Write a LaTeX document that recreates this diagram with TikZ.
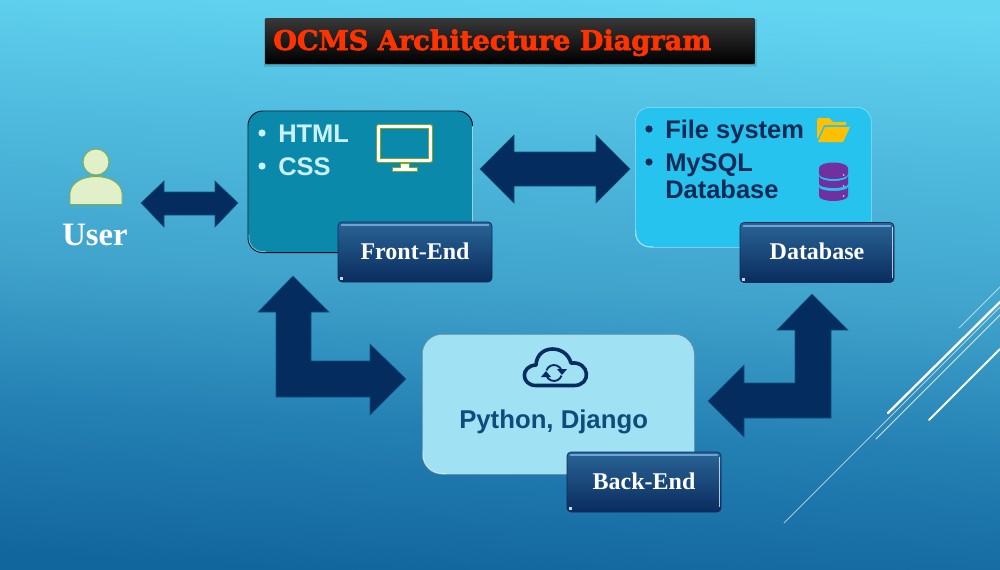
\documentclass[tikz,border=0pt]{standalone}
\usepackage{fontspec}
\setmainfont{Liberation Sans}
\newfontfamily\serifb{Liberation Serif}[BoldFont={Liberation Serif Bold}]
\newfontfamily\titlef{DejaVu Serif Bold}[FakeBold=2.4]
\usetikzlibrary{calc}
\definecolor{arrowblue}{HTML}{052C5F}
\definecolor{titlered}{HTML}{FF3300}
\definecolor{lightT}{HTML}{C8F1FA}
\definecolor{darkT}{HTML}{0D2A57}
\definecolor{pyT}{HTML}{0F4C7C}
\definecolor{tagtop}{HTML}{2A6496}
\definecolor{tagbot}{HTML}{0A2C5E}
\definecolor{tagline}{HTML}{6FA3D4}
\definecolor{frontc}{HTML}{0B89AA}
\definecolor{dbc}{HTML}{25C3EE}
\definecolor{backc}{HTML}{A0E2F4}
\definecolor{monl}{HTML}{7FA61E}
\definecolor{dbp}{HTML}{7030A0}
\definecolor{foldc}{HTML}{FFC000}
\definecolor{ufill}{HTML}{E2F0C9}
\definecolor{uline}{HTML}{86AE3C}
\pgfdeclareverticalshading{slidebg}{100bp}{
  rgb(0bp)=(0.07,0.40,0.62);
  rgb(25bp)=(0.07,0.40,0.62);
  rgb(37.5bp)=(0.14,0.50,0.70);
  rgb(50bp)=(0.25,0.64,0.80);
  rgb(62.5bp)=(0.31,0.73,0.87);
  rgb(75bp)=(0.39,0.84,0.95);
  rgb(100bp)=(0.39,0.84,0.95)
}
\tikzset{
  x=0.75pt,y=-0.75pt,
  blockarrow/.style={fill=arrowblue,draw=arrowblue!80!cyan,line width=0.4pt},
  card/.style={rounded corners=11pt,inner sep=0pt,anchor=north west},
  tag/.style={draw=tagbot,line width=0.5pt,rounded corners=3pt,top color=tagtop,bottom color=tagbot,
    minimum width=115.5pt,minimum height=45pt,inner sep=0pt,text=white,font=\serifb\bfseries\fontsize{18}{20}\selectfont},
  itemtxt/.style={anchor=base west,inner sep=0pt,font=\bfseries\fontsize{19.1}{20}\selectfont},
  wire/.style={white,line cap=round},
  glint/.style={white,opacity=.45,line width=0.7pt},
}
\begin{document}
\begin{tikzpicture}
\useasboundingbox (0,0) rectangle (1000,569);
\clip (0,0) rectangle (1000,569);
\path[shading=slidebg,shading angle=-3] (0,0) rectangle (1000,569);

% decorative lines
\coordinate (w1a) at (888,413); \coordinate (w1b) at (1000,302);
\coordinate (w2a) at (784,523); \coordinate (w2b) at (1000,307);
\coordinate (w3a) at (876,439); \coordinate (w3b) at (1000,315);
\coordinate (w4a) at (929,420); \coordinate (w4b) at (1000,349);
\coordinate (w5a) at (959,328); \coordinate (w5b) at (1000,287);
\draw[wire,line width=1.8pt] (w1a)--(w1b);
\draw[wire,line width=0.6pt,opacity=.6] (w2a)--(w2b);
\draw[wire,line width=0.7pt,opacity=.8] (w3a)--(w3b);
\draw[wire,line width=1.5pt] (w4a)--(w4b);
\draw[wire,line width=0.6pt,opacity=.6] (w5a)--(w5b);

% title
\fill[black,opacity=.12] (264,19) rectangle (757,67);
\fill[black,opacity=.2] (265,20) rectangle (755,65);
\node[anchor=north west,inner sep=0pt,minimum width=366.75pt,minimum height=33.75pt,top color=black!78,bottom color=black] (titlebox) at (265,18) {};
\node[anchor=base west,inner sep=0pt,text=titlered,font=\titlef\fontsize{20.4}{22}\selectfont] (title) at (273,50) {OCMS Architecture Diagram};

% cards
\node[card,fill=frontc,minimum width=168pt,minimum height=105.75pt] (front) at (248,111) {};
\draw[white,opacity=.5,line width=0.6pt] ($(front.north east)+(0,15)$) -- ($(front.south east)+(0,-30)$);
\draw[rounded corners=11pt,black!70!arrowblue,line width=0.7pt] ($(front.south east)+(-60,0)$) -- (front.south west) -- (front.north west) -- (front.north east) -- ($(front.north east)+(0,15)$);
\draw[glint,rounded corners=10pt] ($(front.south west)+(1,-18)$) -- ($(front.south west)+(1,-1)$) -- ($(front.south west)+(18,-1)$);
\node[card,fill=dbc,draw=white!60!cyan,line width=0.4pt,minimum width=177pt,minimum height=105pt] (db) at (635,107) {};
\draw[glint,rounded corners=10pt] ($(db.south west)+(1,-18)$) -- ($(db.south west)+(1,-1)$) -- ($(db.south west)+(18,-1)$);
\node[card,rounded corners=15pt,fill=backc,draw=black!40!cyan!40!gray,line width=0.4pt,minimum width=204pt,minimum height=105pt] (back) at (422,334) {};
\draw[glint,rounded corners=14pt] ($(back.south west)+(1,-24)$) -- ($(back.south west)+(1,-1)$) -- ($(back.south west)+(24,-1)$);

% card text
\fill[lightT] (262,133) circle (3.6);
\node[itemtxt,text=lightT] (html) at (278,142) {HTML};
\fill[lightT] (262,166) circle (3.6);
\node[itemtxt,text=lightT] (css) at (278,175) {CSS};
\fill[darkT] (649,129) circle (3.6);
\node[itemtxt,text=darkT] (file) at (665,138) {File system};
\fill[darkT] (649,162) circle (3.6);
\node[itemtxt,text=darkT] (mysql) at (665,171) {MySQL};
\node[itemtxt,text=darkT] (dbase) at (665,198) {Database};
\node[itemtxt,text=pyT,font=\bfseries\fontsize{19.3}{20}\selectfont] (py) at (459,428) {Python, Django};

% monitor
\draw[monl,line width=3.6pt,line join=round] (378.5,126.5) rectangle (430.5,160.5);
\draw[white,line width=2.9pt,line join=round] (378.5,126.5) rectangle (430.5,160.5);
\filldraw[draw=monl,line width=.3pt,fill=white] (400,163)--(409,163)--(409,167)--(417,167)--(417,171)--(392,171)--(392,167)--(400,167)--cycle;

% folder
\fill[foldc] (817,120) -- (818,118) -- (829,118) -- (833,122) -- (846,122) -- (846,125) -- (824,125) -- (818,138) -- (817,138) -- cycle;
\fill[foldc] (825,127) -- (850,127) -- (843,142) -- (818,142) -- cycle;

% database icon
\fill[dbp] (819,168) arc[start angle=180,end angle=360,x radius=14.5,y radius=5.5] -- (848,174) arc[start angle=0,end angle=180,x radius=14.5,y radius=5] -- cycle;
\fill[dbp] (819,176) arc[start angle=180,end angle=0,x radius=14.5,y radius=5] -- (848,184) arc[start angle=0,end angle=180,x radius=14.5,y radius=4] -- cycle;
\fill[dbp] (819,187) arc[start angle=180,end angle=0,x radius=14.5,y radius=4] -- (848,196) arc[start angle=0,end angle=180,x radius=14.5,y radius=5] -- cycle;
\fill[white!70!dbp] (843.5,175) circle (1) (843.5,186) circle (1) (843.5,196) circle (1);

% cloud
\draw[arrowblue,line width=2.7pt,line join=round]
  (536,385.5) .. controls (521,385.5) and (520,366) .. (536,365)
  .. controls (537,344) and (566,344) .. (571,363)
  .. controls (590,361) and (592,385.5) .. (574,385.5) -- cycle;
\draw[arrowblue,line width=1.4pt] (546.5,370.3) arc[start angle=-160,end angle=-20,radius=8];
\draw[arrowblue,line width=1.4pt] (561.5,375.7) arc[start angle=20,end angle=160,radius=8];
\fill[arrowblue] (557,369)--(567,369)--(562,375)--cycle (541,377)--(551,377)--(546,371)--cycle;

% user
\filldraw[fill=ufill,draw=uline,line width=.7pt] (96,162) circle (13);
\filldraw[fill=ufill,draw=uline,line width=.7pt] (70,204.5) -- (70,193) .. controls (72,171) and (120,171) .. (122,193) -- (122,204.5) -- cycle;
\node[anchor=base,inner sep=0pt,text=white,font=\serifb\bfseries\fontsize{24.5}{26}\selectfont] (user) at (95,245) {User};

% block arrows
\draw[blockarrow] (141,203)--(164,181)--(164,192)--(215,192)--(215,181)--(238,203)--(215,227)--(215,215)--(164,215)--(164,227)--cycle;
\draw[blockarrow] (480,169)--(514,135)--(514,152)--(596,152)--(596,135)--(630,169)--(596,203)--(596,186)--(514,186)--(514,203)--cycle;
\draw[blockarrow] (293,276)--(329,312)--(311,312)--(311,361)--(370,361)--(370,344)--(406,379)--(370,415)--(370,397)--(276,397)--(276,312)--(258,312)--cycle;
\draw[blockarrow] (812,294)--(848,330)--(831,330)--(831,418)--(744,418)--(744,437)--(708,401)--(744,365)--(744,383)--(795,383)--(795,330)--(777,330)--cycle;

% tags
\foreach \nm/\cx/\cy/\tx in {fetag/415/252/Front-End,dbtag/817/252.5/Database,betag/644/482/Back-End}{
  \node[tag] (\nm) at (\cx,\cy) {\raisebox{1.5pt}{\tx}};
  \draw[tagline,line width=1.4pt,line cap=round] ($(\nm.north west)+(4,3.5)$) -- ($(\nm.north east)+(-4,3.5)$);
  \fill[white,opacity=.8] ($(\nm.south west)+(2,-5)$) rectangle ($(\nm.south west)+(5,-2)$);
}
\draw[white,opacity=.7,line width=0.7pt] ($(dbtag.north east)+(-1.5,5)$) -- ($(dbtag.south east)+(-1.5,-5)$);
\draw[white,opacity=.7,line width=0.7pt] ($(betag.north east)+(-1.5,5)$) -- ($(betag.south east)+(-1.5,-5)$);
\end{tikzpicture}
\end{document}
